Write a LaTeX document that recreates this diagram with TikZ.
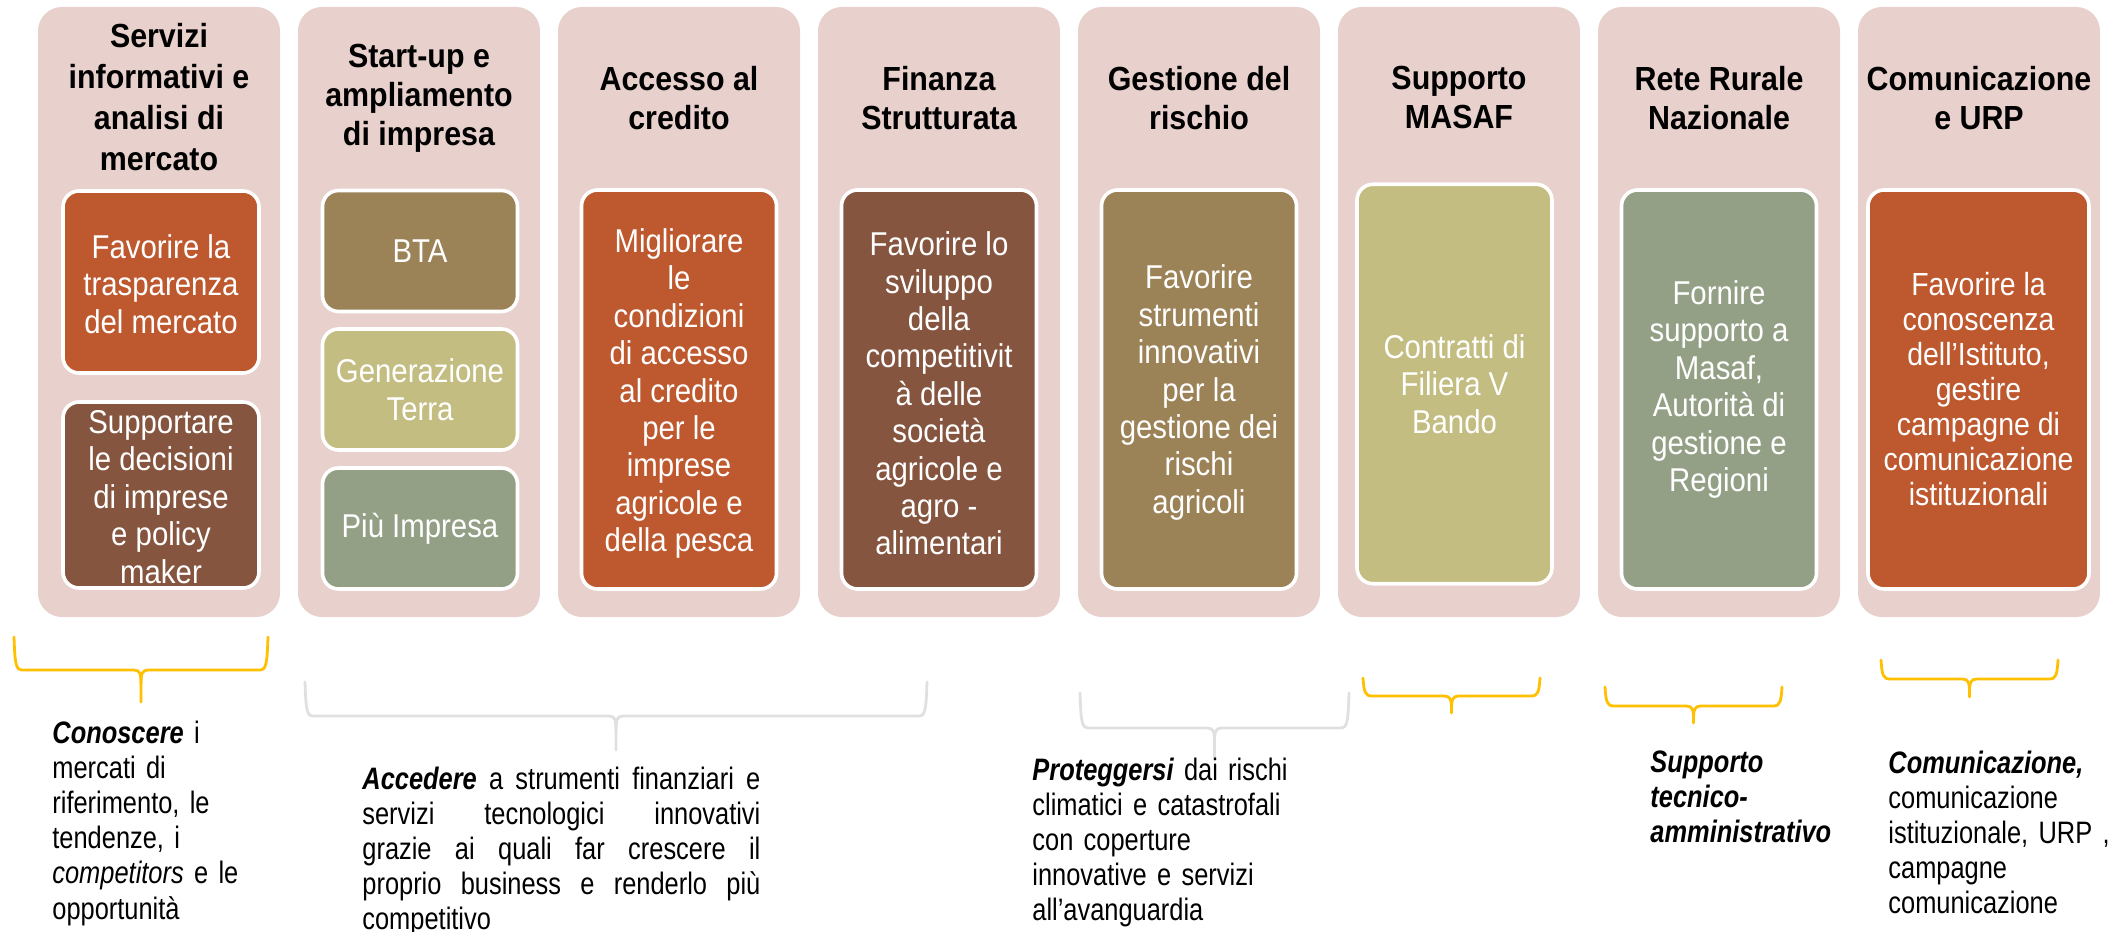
\documentclass[tikz,border=0pt]{standalone}
\usepackage{fontspec}
\setmainfont{Liberation Sans}
\newfontfamily\hdfont{Liberation Sans}[FakeStretch=0.91]
\newfontfamily\bxfont{Liberation Sans}[FakeStretch=0.89]
\newfontfamily\btfont{Liberation Sans}[FakeStretch=0.82]
\definecolor{colpink}{RGB}{232,208,204}
\definecolor{rust}{RGB}{190,88,46}
\definecolor{brownx}{RGB}{133,85,64}
\definecolor{tanx}{RGB}{156,130,87}
\definecolor{khaki}{RGB}{196,189,130}
\definecolor{sage}{RGB}{148,160,134}
\definecolor{gold}{RGB}{255,192,0}
\definecolor{lgray}{RGB}{224,224,224}
\newcommand{\mybrace}[6]{%
  \pgfmathsetmacro\bc{(#2+#3)/2}%
  \draw[brc,#1] (#2,#4) .. controls (#2+1,#5-4) and (#2+2,#5) .. (#2+9,#5) -- (\bc-7,#5) .. controls (\bc-1,#5) and (\bc,#5+4) .. (\bc,#5+14) -- (\bc,#6);
  \draw[brc,#1] (#3,#4) .. controls (#3-1,#5-4) and (#3-2,#5) .. (#3-9,#5) -- (\bc+7,#5) .. controls (\bc+1,#5) and (\bc,#5+4) .. (\bc,#5+14);
}
\newcommand{\jline}[1]{\makebox[199pt][s]{\spaceskip=0.25em plus 1fil\xspaceskip=0.25em plus 1fil\relax #1}}
\begin{document}
\begin{tikzpicture}[x=0.5pt,y=-0.5pt,
  colbox/.style={fill=colpink, draw=none, rounded corners=12pt, minimum width=121pt, minimum height=305pt, inner sep=0},
  hdr/.style={font=\hdfont\bfseries\fontsize{16.7pt}{19.5pt}\selectfont, align=center, inner sep=0},
  ibox/.style={draw=white, line width=1.8pt, rounded corners=8pt, inner sep=0, minimum width=97.5pt},
  btxt/.style={text=white, font=\bxfont\fontsize{16.5pt}{18.7pt}\selectfont, align=center, inner sep=0},
  note/.style={font=\btfont\fontsize{15.5pt}{17.6pt}\selectfont, align=left, inner sep=0, anchor=base west},
  brc/.style={line width=1.4pt, line cap=round, line join=round},
]
\path[fill=white] (0,0) rectangle (2108,931);
\useasboundingbox (0,0) rectangle (2108,931);

% columns
\foreach \i in {1,...,8}{
  \node[colbox] (c\i) at ({159+260*(\i-1)},312) {};
}

% headers
\node[hdr, font=\hdfont\bfseries\fontsize{16.7pt}{20.5pt}\selectfont] (h1) at (159,97.5) {Servizi\\informativi e\\analisi di\\mercato};
\node[hdr] (h2) at (419,98.5) {Start-up e\\ampliamento\\di impresa};
\node[hdr] (h3) at (679,98) {Accesso al\\credito};
\node[hdr] (h4) at (939,98) {Finanza\\Strutturata};
\node[hdr] (h5) at (1199,98) {Gestione del\\rischio};
\node[hdr] (h6) at (1459,98) {Supporto\\MASAF};
\node[hdr] (h7) at (1719,98) {Rete Rurale\\Nazionale};
\node[hdr] (h8) at (1979,98) {Comunicazione\\e URP};

% inner boxes
\node[ibox, fill=rust, minimum width=98pt, minimum height=91pt] (b11) at (161,282) {};
\node[btxt] (t11) at ([yshift=-1pt]b11.center) {Favorire la\\trasparenza\\del mercato};
\node[ibox, fill=brownx, minimum width=98pt, minimum height=93pt] (b12) at (161,495) {};
\node[btxt] (t12) at ([yshift=-1pt]b12.center) {Supportare\\le decisioni\\di imprese\\e policy\\maker};

\node[ibox, fill=tanx, minimum height=60.5pt] (b21) at (420,251) {};
\node[btxt] (t21) at (b21.center) {BTA};
\node[ibox, fill=khaki, minimum height=60.5pt] (b22) at (420,389.5) {};
\node[btxt] (t22) at (b22.center) {Generazione\\Terra};
\node[ibox, fill=sage, minimum height=60.5pt] (b23) at (420,528.5) {};
\node[btxt] (t23) at (b23.center) {Più Impresa};

\node[ibox, fill=rust, minimum height=199.5pt] (b3) at (679,389.5) {};
\node[btxt] (t3) at ([yshift=-2pt]b3.center) {Migliorare\\le\\condizioni\\di accesso\\al credito\\per le\\imprese\\agricole e\\della pesca};

\node[ibox, fill=brownx, minimum height=199.5pt] (b4) at (939,389.5) {};
\node[btxt] (t4) at ([yshift=-2pt]b4.center) {Favorire lo\\sviluppo\\della\\competitivit\\à delle\\società\\agricole e\\agro -\\alimentari};

\node[ibox, fill=tanx, minimum height=199.5pt] (b5) at (1199,389.5) {};
\node[btxt] (t5) at ([yshift=-1.5pt]b5.center) {Favorire\\strumenti\\innovativi\\per la\\gestione dei\\rischi\\agricoli};

\node[ibox, fill=khaki, minimum height=199.75pt] (b6) at (1454.5,384) {};
\node[btxt] (t6) at (b6.center) {Contratti di\\Filiera V\\Bando};

\node[ibox, fill=sage, minimum height=199.5pt] (b7) at (1719,389.5) {};
\node[btxt] (t7) at (b7.center) {Fornire\\supporto a\\Masaf,\\Autorità di\\gestione e\\Regioni};

\node[ibox, fill=rust, minimum width=110.5pt, minimum height=199.5pt] (b8) at (1978.5,389.5) {};
\node[btxt, font=\bxfont\fontsize{16pt}{17.5pt}\selectfont] (t8) at (b8.center) {Favorire la\\conoscenza\\dell’Istituto,\\gestire\\campagne di\\comunicazione\\istituzionali};

% braces
\mybrace{gold}{14}{268}{637}{670}{702}
\mybrace{lgray}{305}{927}{682}{716}{750}
\mybrace{lgray}{1080}{1349}{693}{728}{760}
\mybrace{gold}{1363}{1540}{678}{696}{713}
\mybrace{gold}{1605}{1782}{687}{706}{723}
\mybrace{gold}{1881}{2058}{660}{679}{697}

% bottom texts
\node[note, text width=150pt] (n1) at (52,743) {{\bfseries\itshape Conoscere} i\\mercati di\\riferimento, le\\tendenze, i\\{\itshape competitors} e le\\opportunità};
\node[note, text width=205pt] (n2) at (362,789) {\jline{{\bfseries\itshape Accedere} a strumenti finanziari e}\\\jline{servizi tecnologici innovativi}\\\jline{grazie ai quali far crescere il}\\\jline{proprio business e renderlo più}\\competitivo};
\node[note, text width=150pt] (n3) at (1032,780) {{\bfseries\itshape Proteggersi} dai rischi\\climatici e catastrofali\\con coperture\\innovative e servizi\\all’avanguardia};
\node[note, text width=110pt, font=\btfont\bfseries\itshape\fontsize{15.5pt}{17.6pt}\selectfont] (n4) at (1650,772) {Supporto\\tecnico-\\amministrativo};
\node[note, text width=140pt] (n5) at (1888,773) {{\bfseries\itshape Comunicazione,}\\comunicazione\\istituzionale, URP ,\\campagne\\comunicazione};
\end{tikzpicture}
\end{document}
